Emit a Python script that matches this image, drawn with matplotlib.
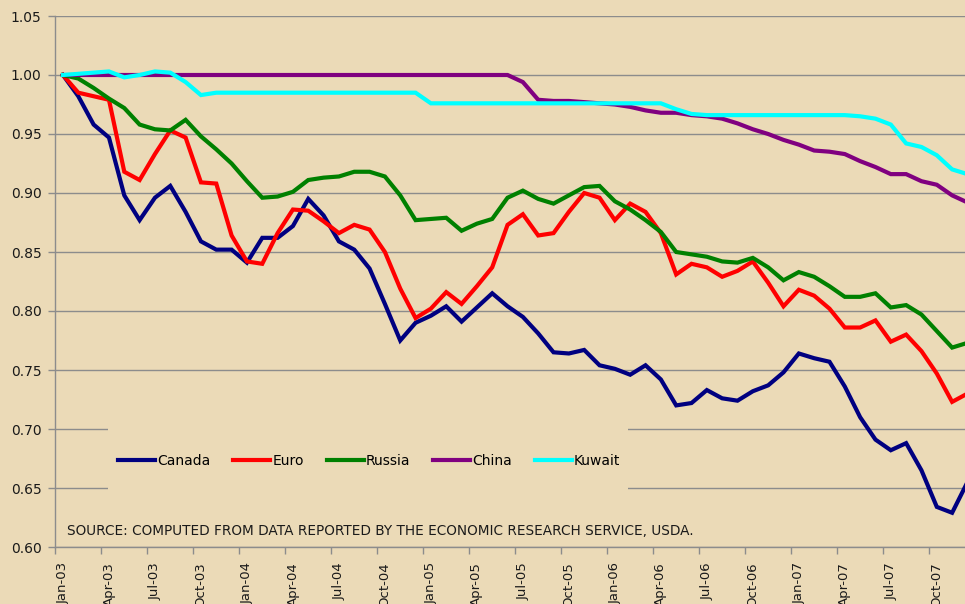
import matplotlib.pyplot as plt
from matplotlib.patches import Rectangle
import numpy as np

# monthly index values, Jan-03 .. Dec-07
months = [m + '-' + y for y in ['03', '04', '05', '06', '07']
          for m in ['Jan', 'Feb', 'Mar', 'Apr', 'May', 'Jun',
                    'Jul', 'Aug', 'Sep', 'Oct', 'Nov', 'Dec']]

canada = [1.000, 0.982, 0.958, 0.947, 0.898, 0.877, 0.896, 0.906, 0.884, 0.859, 0.852, 0.852,
          0.841, 0.862, 0.862, 0.872, 0.895, 0.881, 0.859, 0.852, 0.836, 0.806, 0.775, 0.790,
          0.796, 0.804, 0.791, 0.803, 0.815, 0.804, 0.795, 0.781, 0.765, 0.764, 0.767, 0.754,
          0.751, 0.746, 0.754, 0.742, 0.720, 0.722, 0.733, 0.726, 0.724, 0.732, 0.737, 0.748,
          0.764, 0.760, 0.757, 0.736, 0.710, 0.691, 0.682, 0.688, 0.665, 0.634, 0.629, 0.655]

euro = [1.000, 0.985, 0.982, 0.979, 0.918, 0.911, 0.933, 0.953, 0.947, 0.909, 0.908, 0.864,
        0.842, 0.840, 0.866, 0.886, 0.885, 0.876, 0.866, 0.873, 0.869, 0.850, 0.819, 0.794,
        0.802, 0.816, 0.806, 0.821, 0.837, 0.873, 0.882, 0.864, 0.866, 0.884, 0.900, 0.896,
        0.877, 0.891, 0.884, 0.866, 0.831, 0.840, 0.837, 0.829, 0.834, 0.842, 0.824, 0.804,
        0.818, 0.813, 0.802, 0.786, 0.786, 0.792, 0.774, 0.780, 0.766, 0.747, 0.723, 0.730]

russia = [1.000, 0.997, 0.989, 0.980, 0.972, 0.958, 0.954, 0.953, 0.962, 0.948, 0.937, 0.925,
          0.910, 0.896, 0.897, 0.901, 0.911, 0.913, 0.914, 0.918, 0.918, 0.914, 0.898, 0.877,
          0.878, 0.879, 0.868, 0.874, 0.878, 0.896, 0.902, 0.895, 0.891, 0.898, 0.905, 0.906,
          0.893, 0.886, 0.877, 0.867, 0.850, 0.848, 0.846, 0.842, 0.841, 0.845, 0.837, 0.826,
          0.833, 0.829, 0.821, 0.812, 0.812, 0.815, 0.803, 0.805, 0.797, 0.783, 0.769, 0.773]

china = [1.000, 1.000, 1.000, 1.000, 1.000, 1.000, 1.000, 1.000, 1.000, 1.000, 1.000, 1.000,
         1.000, 1.000, 1.000, 1.000, 1.000, 1.000, 1.000, 1.000, 1.000, 1.000, 1.000, 1.000,
         1.000, 1.000, 1.000, 1.000, 1.000, 1.000, 0.994, 0.979, 0.978, 0.978, 0.977, 0.976,
         0.975, 0.973, 0.970, 0.968, 0.968, 0.966, 0.965, 0.963, 0.959, 0.954, 0.950, 0.945,
         0.941, 0.936, 0.935, 0.933, 0.927, 0.922, 0.916, 0.916, 0.910, 0.907, 0.898, 0.892]

kuwait = [1.000, 1.001, 1.002, 1.003, 0.998, 1.000, 1.003, 1.002, 0.994, 0.983, 0.985, 0.985,
          0.985, 0.985, 0.985, 0.985, 0.985, 0.985, 0.985, 0.985, 0.985, 0.985, 0.985, 0.985,
          0.976, 0.976, 0.976, 0.976, 0.976, 0.976, 0.976, 0.976, 0.976, 0.976, 0.976, 0.976,
          0.976, 0.976, 0.976, 0.976, 0.971, 0.967, 0.966, 0.966, 0.966, 0.966, 0.966, 0.966,
          0.966, 0.966, 0.966, 0.966, 0.965, 0.963, 0.958, 0.942, 0.939, 0.932, 0.920, 0.916]

series = [('Canada', canada, '#000080'),
          ('Euro', euro, '#FF0000'),
          ('Russia', russia, '#008000'),
          ('China', china, '#800080'),
          ('Kuwait', kuwait, '#00FFFF')]

bg = '#EBDAB7'
grid_col = '#8C8C8C'

fig = plt.figure(figsize=(9.65, 6.04), dpi=100, facecolor=bg)
ax = fig.add_axes([55.3 / 965, 57 / 604, 1 - 55.3 / 965, 531 / 604])
ax.set_facecolor(bg)

x = np.arange(len(months))
for name, vals, col in series:
    ax.plot(x, vals, color=col, lw=3, label=name, solid_joinstyle='miter', zorder=3)

ax.set_ylim(0.60, 1.05)
ax.set_yticks(np.arange(0.60, 1.051, 0.05))
ax.yaxis.set_major_formatter(plt.FormatStrFormatter('%.2f'))
ax.set_xlim(-0.5, 58.84)

ax.set_xticks(x[::3])
ax.set_xticklabels(months[::3], rotation=90)
ax.set_xticks(np.arange(-0.5, 59, 3), minor=True)
ax.tick_params(axis='x', which='major', length=0, pad=11, labelsize=9.5, labelcolor='#1a1a1a')
ax.tick_params(axis='x', which='minor', length=5, width=1, color=grid_col)
ax.tick_params(axis='y', length=5, width=1, color=grid_col, pad=5, labelsize=10, labelcolor='#1a1a1a')

ax.grid(axis='y', color=grid_col, lw=1)
ax.set_axisbelow(True)
for s in ['top', 'right']:
    ax.spines[s].set_visible(False)
for s in ['left', 'bottom']:
    ax.spines[s].set_color(grid_col)
    ax.spines[s].set_linewidth(1)

# legend area hides the gridlines behind it
ax.add_patch(Rectangle((0.058, 0.07), 0.572, 0.207, transform=ax.transAxes,
                       facecolor=bg, edgecolor='none', zorder=1))
ax.legend(loc='center left', bbox_to_anchor=(0.0689, 0.162), ncol=5, frameon=False,
          fontsize=10, handlelength=2.66, handletextpad=0.15, columnspacing=1.65,
          borderpad=0, borderaxespad=0)

ax.text(0.0129, 0.030, 'SOURCE: COMPUTED FROM DATA REPORTED BY THE ECONOMIC RESEARCH SERVICE, USDA.',
        transform=ax.transAxes, fontsize=9.8, va='center', ha='left', color='#1a1a1a')

plt.savefig('out.png', dpi=100, facecolor=bg)
plt.close()
